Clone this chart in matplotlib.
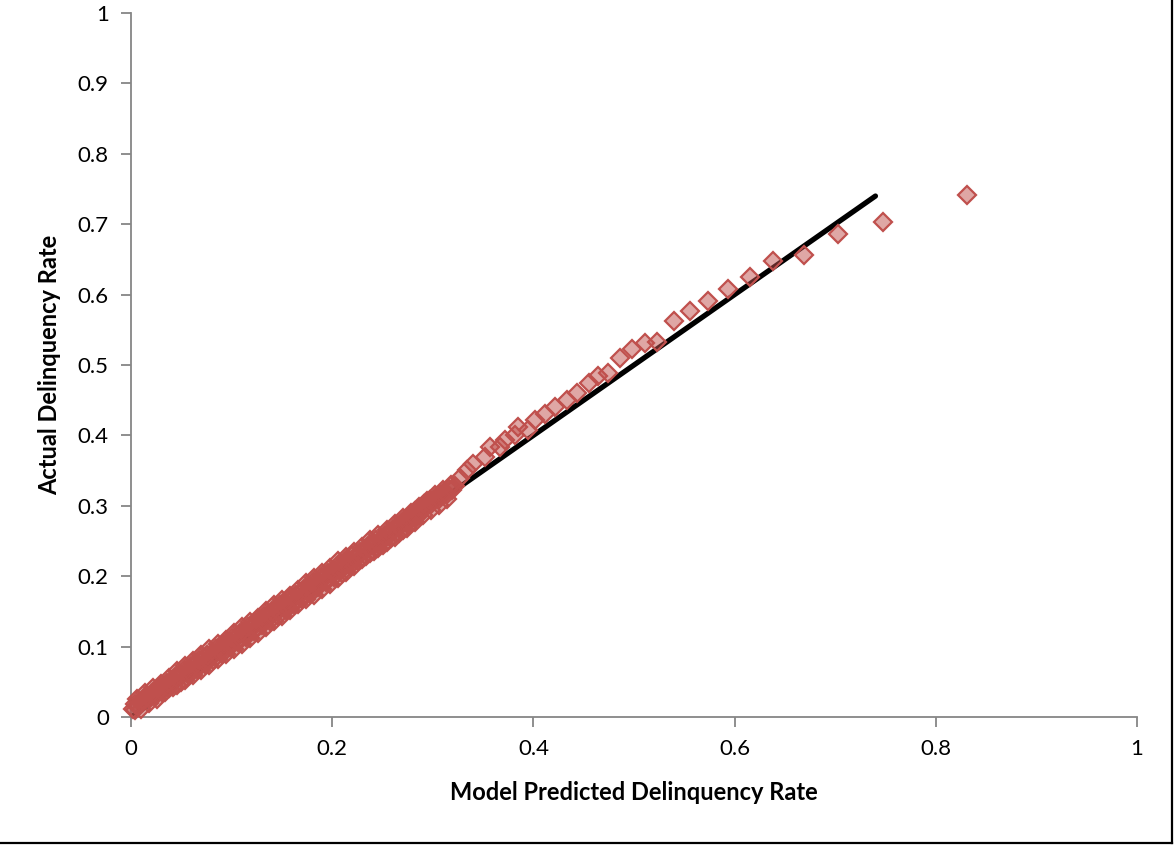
import matplotlib
matplotlib.use("Agg")
import matplotlib.pyplot as plt
from matplotlib.lines import Line2D

# model predicted vs actual delinquency rate
predicted = [
    0.004, 0.007, 0.010, 0.013, 0.016, 0.019, 0.022, 0.025, 0.028, 0.031,
    0.034, 0.038, 0.042, 0.046, 0.050, 0.054, 0.058, 0.062, 0.066, 0.070,
    0.074, 0.078, 0.082, 0.086, 0.090, 0.094, 0.098, 0.102, 0.106, 0.110,
    0.114, 0.118, 0.122, 0.126, 0.130, 0.134, 0.138, 0.142, 0.146, 0.150,
    0.154, 0.158, 0.162, 0.166, 0.170, 0.174, 0.178, 0.182, 0.186, 0.190,
    0.194, 0.198, 0.202, 0.206, 0.210, 0.214, 0.218, 0.222, 0.226, 0.230,
    0.234, 0.238, 0.242, 0.246, 0.250, 0.254, 0.258, 0.262, 0.266, 0.270,
    0.274, 0.278, 0.282, 0.286,
    0.291, 0.297, 0.307, 0.319, 0.327, 0.334, 0.340, 0.352, 0.357, 0.367,
    0.372, 0.382, 0.385, 0.395, 0.402, 0.412, 0.421, 0.433, 0.443, 0.455,
    0.464, 0.474, 0.486, 0.498, 0.511, 0.523, 0.540, 0.556, 0.574, 0.593,
    0.615, 0.638, 0.669, 0.703, 0.748, 0.831,
]
actual = [
    0.010, 0.016, 0.022, 0.024, 0.030, 0.027, 0.034, 0.031, 0.039, 0.036,
    0.044, 0.041, 0.050, 0.046, 0.058, 0.053, 0.064, 0.059, 0.071, 0.067,
    0.078, 0.074, 0.086, 0.082, 0.094, 0.089, 0.102, 0.096, 0.110, 0.104,
    0.116, 0.112, 0.124, 0.119, 0.133, 0.128, 0.142, 0.137, 0.150, 0.144,
    0.156, 0.152, 0.163, 0.160, 0.170, 0.167, 0.179, 0.174, 0.187, 0.182,
    0.195, 0.189, 0.204, 0.198, 0.210, 0.206, 0.219, 0.214, 0.229, 0.224,
    0.237, 0.233, 0.245, 0.240, 0.252, 0.248, 0.261, 0.256, 0.271, 0.266,
    0.281, 0.276, 0.292, 0.287,
    0.303, 0.308, 0.315, 0.322, 0.339, 0.351, 0.360, 0.370, 0.384, 0.384,
    0.393, 0.401, 0.412, 0.408, 0.422, 0.431, 0.441, 0.450, 0.460, 0.474,
    0.484, 0.489, 0.510, 0.523, 0.531, 0.533, 0.563, 0.577, 0.591, 0.608,
    0.625, 0.648, 0.656, 0.686, 0.703, 0.741,
]
# more points in the crowded low range, upper side of the band
predicted_hi = [
    0.006, 0.014, 0.022, 0.030, 0.038, 0.046, 0.054, 0.062, 0.070, 0.078,
    0.086, 0.094, 0.102, 0.110, 0.118, 0.126, 0.134, 0.142, 0.150, 0.158,
    0.166, 0.174, 0.182, 0.190, 0.198, 0.206, 0.214, 0.222, 0.230, 0.238,
    0.246, 0.254, 0.262, 0.270, 0.278, 0.286, 0.294, 0.302, 0.310, 0.318,
]
actual_hi = [
    0.025, 0.034, 0.041, 0.047, 0.056, 0.065, 0.072, 0.079, 0.088, 0.096,
    0.103, 0.110, 0.119, 0.128, 0.135, 0.141, 0.150, 0.159, 0.166, 0.172,
    0.181, 0.190, 0.197, 0.204, 0.212, 0.221, 0.227, 0.234, 0.242, 0.251,
    0.258, 0.265, 0.274, 0.283, 0.290, 0.298, 0.307, 0.316, 0.323, 0.330,
]
# between upper side and middle
predicted_fill = [
    0.004, 0.012, 0.020, 0.028, 0.036, 0.044, 0.052, 0.060, 0.068, 0.076,
    0.084, 0.092, 0.100, 0.108, 0.116, 0.124, 0.132, 0.140, 0.148, 0.156,
    0.164, 0.172, 0.180, 0.188, 0.196, 0.204, 0.212, 0.220, 0.228, 0.236,
    0.244, 0.252, 0.260, 0.268, 0.276, 0.284, 0.292, 0.300, 0.308, 0.316,
]
actual_fill = [
    0.018, 0.026, 0.033, 0.041, 0.049, 0.057, 0.065, 0.073, 0.081, 0.088,
    0.096, 0.104, 0.112, 0.120, 0.128, 0.135, 0.143, 0.151, 0.159, 0.166,
    0.174, 0.182, 0.190, 0.198, 0.205, 0.213, 0.220, 0.228, 0.235, 0.243,
    0.251, 0.259, 0.267, 0.275, 0.283, 0.292, 0.300, 0.308, 0.316, 0.324,
]
# middle of the band
predicted_mid = [
    0.002, 0.010, 0.018, 0.026, 0.034, 0.042, 0.050, 0.058, 0.066, 0.074,
    0.082, 0.090, 0.098, 0.106, 0.114, 0.122, 0.130, 0.138, 0.146, 0.154,
    0.162, 0.170, 0.178, 0.186, 0.194, 0.202, 0.210, 0.218, 0.226, 0.234,
    0.242, 0.250, 0.258, 0.266, 0.274, 0.282, 0.290, 0.298, 0.306, 0.314,
    0.322,
]
actual_mid = [
    0.012, 0.021, 0.028, 0.034, 0.044, 0.052, 0.058, 0.066, 0.076, 0.084,
    0.089, 0.097, 0.107, 0.115, 0.121, 0.129, 0.138, 0.146, 0.152, 0.159,
    0.169, 0.177, 0.183, 0.191, 0.200, 0.208, 0.213, 0.221, 0.230, 0.238,
    0.244, 0.252, 0.262, 0.270, 0.276, 0.284, 0.295, 0.303, 0.309, 0.317,
    0.328,
]
# lower side of the band
predicted_lo = [
    0.010, 0.018, 0.026, 0.034, 0.042, 0.050, 0.058, 0.066, 0.074, 0.082,
    0.090, 0.098, 0.106, 0.114, 0.122, 0.130, 0.138, 0.146, 0.154, 0.162,
    0.170, 0.178, 0.186, 0.194, 0.202, 0.210, 0.218, 0.226, 0.234, 0.242,
    0.250, 0.258, 0.266, 0.274, 0.282, 0.290, 0.298, 0.306, 0.314,
]
actual_lo = [
    0.012, 0.020, 0.026, 0.035, 0.043, 0.050, 0.059, 0.068, 0.075, 0.081,
    0.090, 0.099, 0.106, 0.113, 0.122, 0.130, 0.137, 0.144, 0.152, 0.161,
    0.168, 0.175, 0.184, 0.192, 0.199, 0.205, 0.214, 0.222, 0.229, 0.236,
    0.245, 0.254, 0.261, 0.268, 0.277, 0.287, 0.294, 0.301, 0.310,
]
# reference line (predicted = actual)
line_x = [0.0, 0.74]
line_y = [0.0, 0.74]

x_ticks = [0, 0.2, 0.4, 0.6, 0.8, 1]
x_labels = ["0", "0.2", "0.4", "0.6", "0.8", "1"]
y_ticks = [0, 0.1, 0.2, 0.3, 0.4, 0.5, 0.6, 0.7, 0.8, 0.9, 1]
y_labels = ["0", "0.1", "0.2", "0.3", "0.4", "0.5", "0.6", "0.7", "0.8", "0.9", "1"]

plt.rcParams['font.family'] = ['Lato', 'DejaVu Sans']

fig = plt.figure(figsize=(11.75, 8.46), dpi=100)
ax = fig.add_axes([131 / 1175, 1 - 717 / 846, (1137 - 131) / 1175, (717 - 13) / 846])

red = (0.753, 0.314, 0.302)
ax.plot(line_x, line_y, color="black", lw=3.8, solid_capstyle="round", zorder=2)
all_x = predicted_lo + predicted_mid + predicted_fill + predicted_hi + predicted
all_y = actual_lo + actual_mid + actual_fill + actual_hi + actual
ax.plot(all_x, all_y, ls="none", marker="D", ms=9.3,
        mfc=red + (0.5,), mec=red, mew=1.6, zorder=3, clip_on=False)

ax.set_xlim(0, 1)
ax.set_ylim(0, 1)
ax.set_xticks(x_ticks)
ax.set_xticklabels(x_labels)
ax.set_yticks(y_ticks)
ax.set_yticklabels(y_labels)

for s in ["top", "right"]:
    ax.spines[s].set_visible(False)
for s in ["left", "bottom"]:
    ax.spines[s].set_color("#868686")
    ax.spines[s].set_linewidth(1.3)
ax.tick_params(direction="out", length=7, width=1.3, color="#868686",
               labelsize=16, labelcolor="black", pad=9)

ax.set_xlabel("Model Predicted Delinquency Rate", fontsize=17, fontweight="bold", labelpad=16)
ax.set_ylabel("Actual Delinquency Rate", fontsize=17, fontweight="bold", labelpad=12)

# chart border (right and bottom edges visible)
fig.add_artist(Line2D([1172 / 1175, 1172 / 1175], [3 / 846, 1.0], color="black", lw=1.6))
fig.add_artist(Line2D([0, 1172 / 1175], [3 / 846, 3 / 846], color="black", lw=1.6))

fig.savefig("out.png", dpi=100)
